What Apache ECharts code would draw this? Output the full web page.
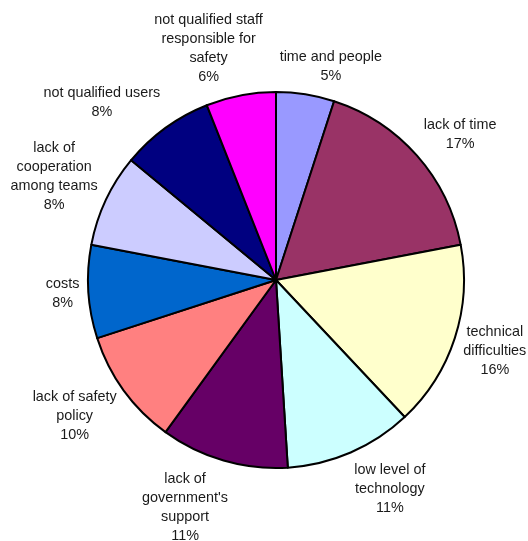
<!DOCTYPE html>
<html>
<head>
<meta charset="utf-8">
<script src="https://cdn.jsdelivr.net/npm/echarts@6/dist/echarts.min.js"></script>
<style>
  html, body { margin: 0; padding: 0; background: #fff; }
  #chart { width: 528px; height: 541px; }
</style>
</head>
<body>
<div id="chart"></div>
<script>
// Reported obstacles, share of answers (%), clockwise from 12 o'clock
const categories = [
  'time and people',
  'lack of time',
  'technical\ndifficulties',
  'low level of\ntechnology',
  "lack of\ngovernment's\nsupport",
  'lack of safety\npolicy',
  'costs',
  'lack of\ncooperation\namong teams',
  'not qualified users',
  'not qualified staff\nresponsible for\nsafety'
];
const shares = [5, 17, 16, 11, 11, 10, 8, 8, 8, 6];
const sliceColors = [
  '#9999FF', '#993366', '#FFFFCC', '#CCFFFF', '#660066',
  '#FF8080', '#0066CC', '#CCCCFF', '#000080', '#FF00FF'
];

// Pie geometry
const CX = 276, CY = 280, R = 188, GAP = 9;

// Mid angle of every slice (radians, clockwise from the top)
const total = shares.reduce((a, b) => a + b, 0);
const midAngles = [];
let acc = 0;
shares.forEach(v => { midAngles.push((acc + v / 2) / total * 2 * Math.PI); acc += v; });
const clamp = v => Math.max(-1, Math.min(1, v));

const chart = echarts.init(document.getElementById('chart'));
chart.setOption({
  animation: false,
  series: [{
    type: 'pie',
    center: [CX, CY],
    radius: R,
    startAngle: 90,
    clockwise: true,
    avoidLabelOverlap: false,
    silent: true,
    data: categories.map((name, i) => ({
      name: name,
      value: shares[i],
      itemStyle: { color: sliceColors[i] }
    })),
    itemStyle: { borderColor: '#000', borderWidth: 2 },
    label: {
      show: true,
      position: 'outside',
      formatter: p => p.name + '\n' + p.value + '%',
      fontFamily: '"Liberation Sans", Arial, sans-serif',
      fontSize: 14.4,
      lineHeight: 19,
      color: '#1a1a1a'
    },
    labelLine: { show: false },
    // Centre each label block just outside the rim, pushed away along the slice's mid angle
    labelLayout: p => {
      const a = midAngles[p.dataIndex];
      const s = Math.sin(a), c = Math.cos(a);
      const px = CX + (R + GAP) * s;
      const py = CY - (R + GAP) * c;
      const w = p.labelRect.width, h = p.labelRect.height;
      return {
        x: px + w / 2 * clamp(3 * s),
        y: py + h / 2 * clamp(-1.2 * c),
        align: 'center',
        verticalAlign: 'middle'
      };
    }
  }]
});
</script>
</body>
</html>
